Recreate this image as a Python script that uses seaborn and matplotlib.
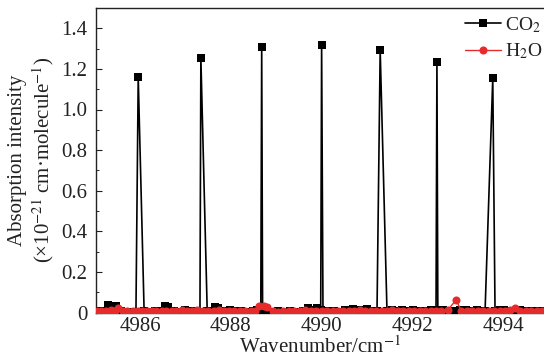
import numpy as np
import pandas as pd
import seaborn as sns
import matplotlib
matplotlib.use("Agg")
import matplotlib.pyplot as plt
from matplotlib.ticker import MultipleLocator, FixedLocator, FixedFormatter

# ---- data ----
co2_x = [4985.10, 4985.22, 4985.30, 4985.40, 4985.47, 4985.58, 4985.70, 4985.82,
         4985.91, 4985.96, 4986.09, 4986.20, 4986.33, 4986.45, 4986.55, 4986.62,
         4986.75, 4986.88, 4987.00, 4987.12, 4987.24, 4987.32, 4987.34, 4987.48,
         4987.56, 4987.65, 4987.72, 4987.85, 4987.98, 4988.10, 4988.22, 4988.35,
         4988.48, 4988.58, 4988.66, 4988.68, 4988.70, 4988.80, 4988.92, 4989.05,
         4989.18, 4989.30, 4989.45, 4989.58, 4989.70, 4989.80, 4989.90, 4989.98,
         4990.00, 4990.03, 4990.15, 4990.28, 4990.40, 4990.52, 4990.62, 4990.70,
         4990.80, 4990.90, 4991.00, 4991.10, 4991.22, 4991.29, 4991.44, 4991.55,
         4991.65, 4991.78, 4991.90, 4992.01, 4992.12, 4992.25, 4992.40, 4992.50,
         4992.52, 4992.54, 4992.56, 4992.68, 4992.80, 4992.92, 4993.05, 4993.18,
         4993.30, 4993.42, 4993.52, 4993.60, 4993.77, 4993.82, 4993.92, 4994.02,
         4994.12, 4994.25, 4994.38, 4994.50, 4994.62, 4994.75, 4994.88, 4995.00,
         4995.12, 4995.25]
co2_y = [0.005, 0.008, 0.036, 0.034, 0.030, 0.006, 0.004, 0.003,
         0.004, 1.160, 0.005, 0.004, 0.006, 0.005, 0.030, 0.026,
         0.008, 0.004, 0.010, 0.005, 0.006, 0.004, 1.255, 0.005,
         0.008, 0.026, 0.022, 0.006, 0.010, 0.005, 0.008, 0.004,
         0.006, 0.010, 0.012, 1.309, 0.010, 0.006, 0.004, 0.007,
         0.003, 0.006, 0.004, 0.008, 0.020, 0.012, 0.022, 0.010,
         1.320, 0.008, 0.005, 0.008, 0.004, 0.010, 0.012, 0.018,
         0.010, 0.012, 0.016, 0.008, 0.005, 1.292, 0.006, 0.010,
         0.006, 0.012, 0.008, 0.014, 0.006, 0.008, 0.010, 0.012,
         0.010, 1.236, 0.008, 0.010, 0.004, 0.006, 0.010, 0.012,
         0.008, 0.010, 0.006, 0.005, 1.153, 0.005, 0.010, 0.012,
         0.008, 0.006, 0.010, 0.006, 0.008, 0.005, 0.006, 0.004,
         0.005, 0.004]

h2o_x = [4985.05, 4985.15, 4985.25, 4985.35, 4985.44, 4985.52, 4985.62, 4985.72,
         4985.85, 4985.95, 4986.05, 4986.16, 4986.26, 4986.36, 4986.48, 4986.58,
         4986.70, 4986.80, 4986.92, 4987.04, 4987.15, 4987.26, 4987.38, 4987.50,
         4987.62, 4987.74, 4987.86, 4987.96, 4988.08, 4988.20, 4988.32, 4988.44,
         4988.54, 4988.62, 4988.72, 4988.80, 4988.92, 4989.04, 4989.16, 4989.28,
         4989.40, 4989.52, 4989.64, 4989.76, 4989.88, 4990.00, 4990.12, 4990.24,
         4990.36, 4990.48, 4990.60, 4990.72, 4990.84, 4990.96, 4991.08, 4991.20,
         4991.32, 4991.44, 4991.56, 4991.68, 4991.80, 4991.92, 4992.04, 4992.16,
         4992.28, 4992.40, 4992.52, 4992.64, 4992.78, 4992.96, 4993.08, 4993.20,
         4993.32, 4993.44, 4993.56, 4993.68, 4993.80, 4993.92, 4994.04, 4994.16,
         4994.26, 4994.38, 4994.50, 4994.62, 4994.74, 4994.86, 4994.98, 4995.10,
         4995.22]
h2o_y = [0.006, 0.008, 0.006, 0.010, 0.008, 0.022, 0.006, 0.008,
         0.005, 0.007, 0.006, 0.008, 0.006, 0.009, 0.007, 0.005,
         0.008, 0.006, 0.012, 0.006, 0.008, 0.010, 0.006, 0.008,
         0.005, 0.010, 0.006, 0.008, 0.006, 0.007, 0.005, 0.008,
         0.006, 0.030, 0.032, 0.026, 0.006, 0.004, 0.006, 0.005,
         0.008, 0.006, 0.010, 0.006, 0.008, 0.006, 0.009, 0.006,
         0.008, 0.005, 0.007, 0.006, 0.010, 0.006, 0.008, 0.005,
         0.008, 0.006, 0.010, 0.007, 0.006, 0.009, 0.006, 0.008,
         0.005, 0.008, 0.006, 0.007, 0.012, 0.062, 0.008, 0.006,
         0.009, 0.006, 0.008, 0.005, 0.007, 0.006, 0.008, 0.010,
         0.024, 0.008, 0.006, 0.009, 0.006, 0.008, 0.006, 0.007,
         0.006]

series_labels = ["CO$_2$", "H$_2$O"]
ytick_vals = [0, 0.2, 0.4, 0.6, 0.8, 1.0, 1.2, 1.4]
ytick_labels = ["0", "0.2", "0.4", "0.6", "0.8", "1.0", "1.2", "1.4"]
xtick_vals = [4986, 4988, 4990, 4992, 4994]

# ---- style ----
sns.set_theme(style="ticks")
plt.rcParams["font.family"] = ["Liberation Serif", "DejaVu Serif"]
plt.rcParams["mathtext.fontset"] = "stix"

fig = plt.figure(figsize=(5.44, 3.58), dpi=100)
# axes: left edge at px 96, bottom at px 312.5, top at px 8, extends past right edge
ax = fig.add_axes([96 / 544, 45.5 / 358, (600 - 96) / 544, 304.5 / 358])

co2_df = pd.DataFrame({"x": co2_x, "y": co2_y})
h2o_df = pd.DataFrame({"x": h2o_x, "y": h2o_y})

sns.lineplot(data=co2_df, x="x", y="y", ax=ax, color="black", lw=1.2,
             marker="s", markersize=5.5, markeredgewidth=0, estimator=None,
             label=series_labels[0], zorder=3)
sns.lineplot(data=h2o_df, x="x", y="y", ax=ax, color="#e52b2b", lw=1.0,
             marker="o", markersize=5.8, markeredgewidth=0, estimator=None,
             label=series_labels[1], zorder=4)

ax.set_xlim(4985.03, 4986 + (600 - 140) / 45.4)
ax.set_ylim(0, 1.5)

ax.yaxis.set_major_locator(FixedLocator(ytick_vals))
ax.yaxis.set_major_formatter(FixedFormatter(ytick_labels))
ax.yaxis.set_minor_locator(MultipleLocator(0.1))
ax.xaxis.set_major_locator(FixedLocator(xtick_vals))
ax.xaxis.set_minor_locator(MultipleLocator(1))

ax.tick_params(axis="both", which="major", direction="in", length=4, width=0.8,
               labelsize=15, colors="#222222")
ax.tick_params(axis="both", which="minor", direction="in", length=2.5, width=0.7)
ax.tick_params(axis="y", pad=6)
ax.tick_params(axis="x", pad=3)

for s in ax.spines.values():
    s.set_linewidth(1.0)
    s.set_color("#222222")

ax.set_xlabel("Wavenumber/cm$^{-1}$", fontsize=15, labelpad=0, color="#222222")
ax.xaxis.set_label_coords((320 - 96) / 504, -0.078)
ax.set_ylabel("Absorption intensity\n(×10$^{-21}$ cm·molecule$^{-1}$)",
              fontsize=15, labelpad=4, color="#222222", linespacing=1.15)

leg = ax.legend(loc="upper left", bbox_to_anchor=((461 - 96) / 504, 0.99),
                frameon=False, fontsize=14, handlelength=1.85, handletextpad=0.2,
                labelspacing=0.35, borderpad=0.2, borderaxespad=0.0)
for t in leg.get_texts():
    t.set_color("#222222")

fig.savefig("out.png", dpi=100)
